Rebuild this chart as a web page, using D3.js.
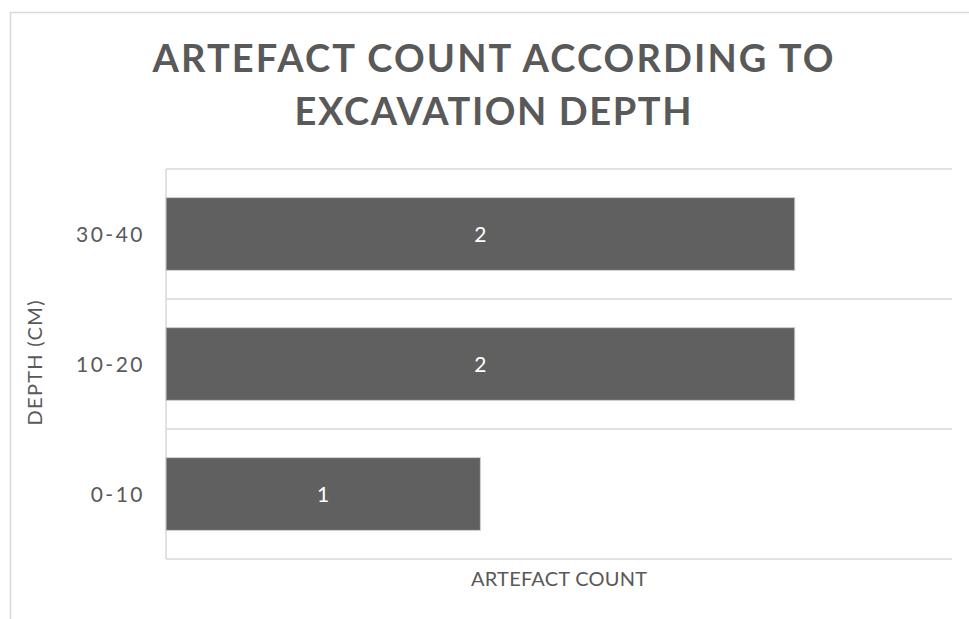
<!DOCTYPE html>
<html>
<head>
<meta charset="utf-8">
<script src="https://cdn.jsdelivr.net/npm/d3@7"></script>
<style>
  html, body { margin: 0; padding: 0; background: #ffffff; }
  svg { display: block; }
</style>
</head>
<body>
<script>
// ---- data ----
const categories = ["30-40", "10-20", "0-10"];
const counts = [2, 2, 1];
const valueDomain = [0, 2.5];
const titleLines = ["ARTEFACT COUNT ACCORDING TO", "EXCAVATION DEPTH"];
const xAxisTitle = "ARTEFACT COUNT";
const yAxisTitle = "DEPTH (CM)";

// ---- layout ----
const W = 969, H = 619;
const plot = { left: 166, right: 952, top: 169, bottom: 559 };
const textColor = "#595959";
const gridColor = "#d9d9d9";
const barColor = "#606060";
const font = "Lato, 'Open Sans', sans-serif";

const svg = d3.select("body").append("svg").attr("width", W).attr("height", H);

// chart border
svg.append("rect")
  .attr("x", 10.5).attr("y", 12.5)
  .attr("width", 1000).attr("height", 700)
  .attr("fill", "#ffffff").attr("stroke", gridColor).attr("stroke-width", 1.5);

const y = d3.scaleBand().domain(categories)
  .range([plot.top, plot.bottom]).paddingInner(0.44).paddingOuter(0.22);
const x = d3.scaleLinear().domain(valueDomain).range([plot.left, plot.right]);

// category boundary gridlines
const bounds = categories.map(c => y(c) - y.step() * y.paddingOuter());
bounds.push(plot.bottom);
svg.append("g").selectAll("line").data(bounds).join("line")
  .attr("x1", plot.left).attr("x2", plot.right)
  .attr("y1", d => d).attr("y2", d => d)
  .attr("stroke", gridColor).attr("stroke-width", 1.5);

// category axis line
svg.append("line")
  .attr("x1", plot.left).attr("x2", plot.left)
  .attr("y1", plot.top).attr("y2", plot.bottom)
  .attr("stroke", gridColor).attr("stroke-width", 1.5);

// bars
const data = categories.map((c, i) => ({ c, v: counts[i] }));
svg.append("g").selectAll("rect").data(data).join("rect")
  .attr("x", x(0)).attr("y", d => y(d.c))
  .attr("width", d => x(d.v) - x(0)).attr("height", y.bandwidth())
  .attr("fill", barColor).attr("stroke", "#cfcfcf").attr("stroke-width", 1);

// data labels
svg.append("g").selectAll("text").data(data).join("text")
  .attr("x", d => (x(0) + x(d.v)) / 2)
  .attr("y", d => y(d.c) + y.bandwidth() / 2)
  .attr("dy", "0.36em")
  .attr("text-anchor", "middle")
  .attr("font-family", font).attr("font-size", 21)
  .attr("fill", "#ffffff")
  .text(d => d.v);

// y axis tick labels
const yAxis = d3.axisLeft(y).tickSize(0).tickPadding(0);
const gy = svg.append("g").attr("transform", `translate(${plot.left - 21},0)`).call(yAxis);
gy.select(".domain").remove();
gy.selectAll("text")
  .attr("font-family", font).attr("font-size", 21)
  .attr("fill", textColor)
  .attr("letter-spacing", "2.5px")
  .attr("dy", "0.36em");

// title
svg.append("g").selectAll("text").data(titleLines).join("text")
  .attr("x", 493).attr("y", (d, i) => 72 + i * 52.5)
  .attr("text-anchor", "middle")
  .attr("font-family", font).attr("font-weight", "bold").attr("font-size", 38)
  .attr("fill", textColor)
  .attr("textLength", (d, i) => [681, 397][i])
  .attr("lengthAdjust", "spacing")
  .text(d => d);

// x axis title
svg.append("text")
  .attr("x", (plot.left + plot.right) / 2).attr("y", 586)
  .attr("text-anchor", "middle")
  .attr("font-family", font).attr("font-size", 20)
  .attr("fill", textColor)
  .attr("textLength", 176).attr("lengthAdjust", "spacing")
  .text(xAxisTitle);

// y axis title
svg.append("text")
  .attr("transform", `translate(42,${(plot.top + plot.bottom) / 2 - 1}) rotate(-90)`)
  .attr("text-anchor", "middle")
  .attr("font-family", font).attr("font-size", 20)
  .attr("fill", textColor)
  .attr("textLength", 125).attr("lengthAdjust", "spacing")
  .text(yAxisTitle);
</script>
</body>
</html>
